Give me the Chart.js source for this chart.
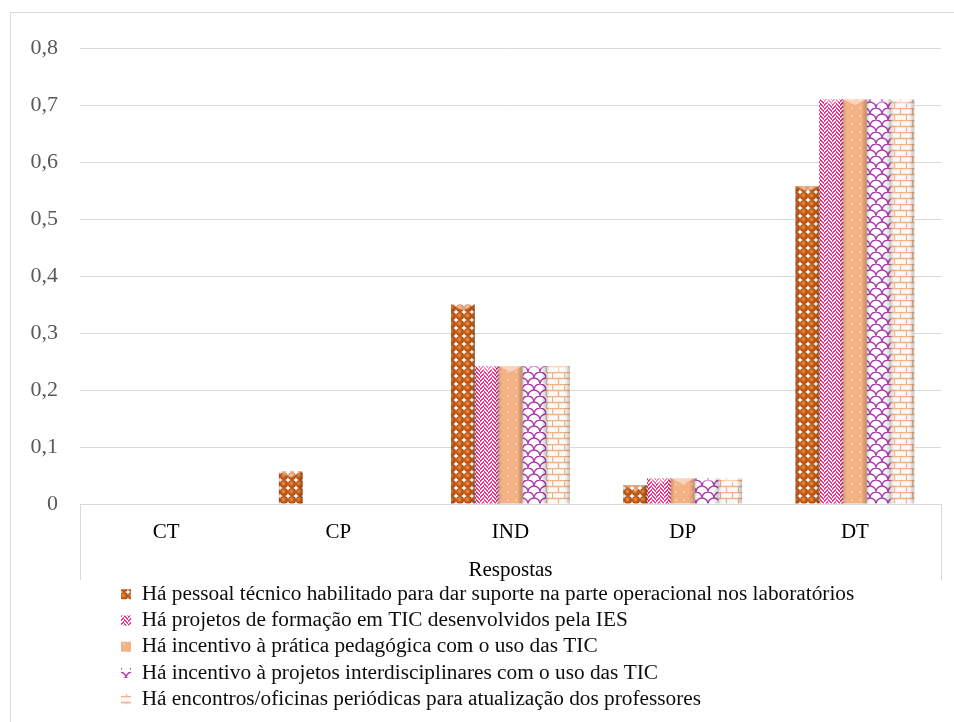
<!DOCTYPE html>
<html><head><meta charset="utf-8">
<script src="https://cdn.jsdelivr.net/npm/chart.js@4/dist/chart.umd.min.js"></script>
<style>html,body{margin:0;padding:0;background:#fff}#wrap{width:954px;height:722px}</style>
</head><body><div id="wrap"><canvas id="c" width="954" height="722"></canvas></div>
<script>
const categories = ['CT', 'CP', 'IND', 'DP', 'DT'];
const seriesNames = [
  'Há pessoal técnico habilitado para dar suporte na parte operacional nos laboratórios',
  'Há projetos de formação em TIC desenvolvidos pela IES',
  'Há incentivo à prática pedagógica com o uso das TIC',
  'Há incentivo à projetos interdisciplinares com o uso das TIC',
  'Há encontros/oficinas periódicas para atualização dos professores'
];
const seriesPessoal = [0, 0.057, 0.35, 0.033, 0.558];
const seriesProjetos = [0, 0, 0.242, 0.045, 0.71];
const seriesPratica = [0, 0, 0.242, 0.045, 0.71];
const seriesInterdisc = [0, 0, 0.242, 0.045, 0.71];
const seriesEncontros = [0, 0, 0.242, 0.045, 0.71];
const yTickLabels = ['0', '0,1', '0,2', '0,3', '0,4', '0,5', '0,6', '0,7', '0,8'];
const xTitle = 'Respostas';

const FONT = "'Liberation Serif', 'Times New Roman', serif";

function tile(w, h, draw) {
  const c = document.createElement('canvas');
  c.width = w; c.height = h;
  const g = c.getContext('2d');
  draw(g, w, h);
  return document.getElementById('c').getContext('2d').createPattern(c, 'repeat');
}
const patSpheres = tile(8, 8, (g) => {
  g.fillStyle = '#ffffff'; g.fillRect(0, 0, 8, 8);
  const rg = g.createRadialGradient(3, 3, 0.5, 4, 4, 4.3);
  rg.addColorStop(0, '#EA8C45'); rg.addColorStop(0.55, '#C55A11'); rg.addColorStop(1, '#A4450A');
  g.fillStyle = rg; g.beginPath(); g.arc(4, 4, 4.0, 0, Math.PI * 2); g.fill();
});
const patWeave = tile(8, 8, (g) => {
  g.fillStyle = '#ffffff'; g.fillRect(0, 0, 8, 8);
  g.fillStyle = '#F0338F';
  for (let y = 0; y < 8; y++) for (let x = 0; x < 8; x++) {
    const k = x < 4 ? ((x + y) % 4) : ((x - y + 8) % 4);
    if (k === 0 || k === 1) g.fillRect(x, y, 1, 1);
  }
});
const patDots = tile(8, 8, (g) => {
  g.fillStyle = '#F4B183'; g.fillRect(0, 0, 8, 8);
  g.fillStyle = 'rgba(255,255,255,0.85)'; g.fillRect(3.5, 3.5, 1.3, 1.3);
});
const patWave = tile(12, 12, (g) => {
  g.fillStyle = '#ffffff'; g.fillRect(0, 0, 12, 12);
  g.strokeStyle = '#B23CB2'; g.lineWidth = 1.4;
  g.beginPath(); g.arc(6, 12, 6, Math.PI, Math.PI * 2); g.stroke();
  g.beginPath(); g.arc(0, 6, 6, Math.PI, Math.PI * 2); g.stroke();
  g.beginPath(); g.arc(12, 6, 6, Math.PI, Math.PI * 2); g.stroke();
});
const patBrick = tile(12, 12, (g) => {
  g.fillStyle = '#fafafa'; g.fillRect(0, 0, 12, 12);
  g.strokeStyle = '#F4B183'; g.lineWidth = 1.3;
  g.beginPath();
  g.moveTo(0, 0.5); g.lineTo(12, 0.5);
  g.moveTo(0, 6.5); g.lineTo(12, 6.5);
  g.moveTo(0.5, 0); g.lineTo(0.5, 6.5);
  g.moveTo(6.5, 6.5); g.lineTo(6.5, 12);
  g.stroke();
});

const seriesValues = [seriesPessoal, seriesProjetos, seriesPratica, seriesInterdisc, seriesEncontros];
const seriesFills = [patSpheres, patWeave, patDots, patWave, patBrick];

const frame = {
  id: 'frame',
  beforeDraw(chart) {
    const ctx = chart.ctx, a = chart.chartArea;
    ctx.save();
    ctx.strokeStyle = '#d9d9d9'; ctx.lineWidth = 1;
    ctx.beginPath();
    ctx.moveTo(10.5, 722); ctx.lineTo(10.5, 12.5); ctx.lineTo(954, 12.5);
    ctx.moveTo(Math.round(a.left) + 0.5, a.bottom); ctx.lineTo(Math.round(a.left) + 0.5, 580);
    ctx.moveTo(Math.round(a.right) + 0.5, a.bottom); ctx.lineTo(Math.round(a.right) + 0.5, 580);
    ctx.stroke();
    ctx.restore();
  },
  afterLayout(chart) {
    const lg = chart.legend;
    lg.left += 116;
    lg.top = 578.5;
    lg.bottom = 722;
    lg.height = lg.bottom - lg.top;
  },
  afterDatasetsDraw(chart) {
    const ctx = chart.ctx;
    ctx.save();
    chart.data.datasets.forEach((ds, i) => {
      const meta = chart.getDatasetMeta(i);
      meta.data.forEach((bar) => {
        const h = bar.base - bar.y;
        if (h <= 0.5) return;
        const x0 = bar.x - bar.width / 2, x1 = bar.x + bar.width / 2;
        const gr = ctx.createLinearGradient(x0, 0, x1, 0);
        gr.addColorStop(0, 'rgba(0,0,0,0.18)');
        gr.addColorStop(0.14, 'rgba(0,0,0,0)');
        gr.addColorStop(0.78, 'rgba(0,0,0,0)');
        gr.addColorStop(1, 'rgba(0,0,0,0.22)');
        ctx.fillStyle = gr;
        ctx.fillRect(x0, bar.y, bar.width, h);
        const th = Math.min(6, h);
        ctx.fillStyle = 'rgba(255,255,255,0.45)';
        ctx.beginPath();
        ctx.moveTo(x0, bar.y); ctx.lineTo(x1, bar.y); ctx.lineTo(bar.x, bar.y + th); ctx.closePath();
        ctx.fill();
      });
    });
    ctx.restore();
  }
};

new Chart(document.getElementById('c'), {
  type: 'bar',
  data: {
    labels: categories,
    datasets: seriesNames.map((n, i) => ({
      label: n,
      data: seriesValues[i],
      backgroundColor: seriesFills[i],
      borderWidth: 0,
      categoryPercentage: 0.69,
      barPercentage: 1
    }))
  },
  options: {
    responsive: false,
    animation: false,
    layout: { padding: { top: 48, right: 13, bottom: 29, left: 0 } },
    plugins: {
      tooltip: { enabled: false },
      legend: {
        position: 'bottom',
        align: 'start',
        maxHeight: 115,
        labels: {
          boxWidth: 10, boxHeight: 10, padding: 5,
          color: '#0d0d0d',
          font: { family: FONT, size: 21.3 }
        }
      }
    },
    scales: {
      x: {
        grid: { display: false, drawTicks: false },
        border: { display: true, color: '#d9d9d9' },
        ticks: { color: '#000', padding: 16, font: { family: FONT, size: 21 } },
        title: { display: true, text: xTitle, color: '#000', padding: 0, font: { family: FONT, size: 21, lineHeight: 0.7 } },
        afterFit(s) { s.height = 74; }
      },
      y: {
        min: 0, max: 0.8,
        grid: { color: '#d9d9d9', drawTicks: false },
        border: { display: false },
        ticks: {
          stepSize: 0.1, padding: 22, color: '#595959',
          font: { family: FONT, size: 22 },
          callback: (v, i) => yTickLabels[i]
        },
        afterFit(s) { s.width = 80; }
      }
    }
  },
  plugins: [frame]
});
</script></body></html>
